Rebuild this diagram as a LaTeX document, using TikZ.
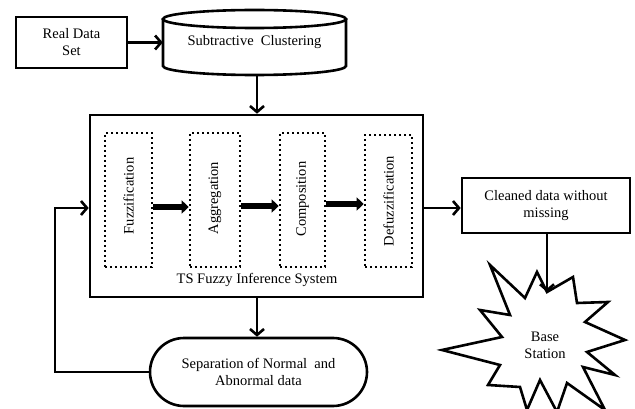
\documentclass[tikz,border=0pt]{standalone}
\usepackage{fontspec}
\setmainfont{Liberation Serif}
\usetikzlibrary{arrows.meta,calc}
\begin{document}
\begin{tikzpicture}[x=1pt,y=-1pt,
  font=\fontsize{14.5}{17}\selectfont,
  box/.style={draw,line width=2.6pt,align=center,inner sep=2pt},
  dotbox/.style={draw,line width=2.6pt,dash pattern=on 2.4pt off 2.6pt,minimum width=47pt,minimum height=134pt,inner sep=0pt},
  arr/.style={line width=2.6pt,-{Straight Barb[length=6pt,width=14pt,line width=2.6pt]}},
  bigarr/.style={line width=6pt,-{Triangle[length=7pt,width=13pt]}},
  lbl/.style={rotate=90,inner sep=0pt}]
\useasboundingbox (0,0) rectangle (635,409);
% Real data set
\node[box,minimum width=111pt,minimum height=51pt] (real) at (71.5,42.5) {Real Data\\Set};
% Cylinder
\node[minimum width=183pt,minimum height=47pt,inner sep=0pt] (cyl) at (254.5,42) {Subtractive\ \ Clustering};
\draw[line width=2.6pt] (254.5,19) ellipse [x radius=91.5pt,y radius=9pt];
\draw[line width=2.6pt] (163,19) -- (163,66) arc[start angle=180,end angle=360,x radius=91.5pt,y radius=9pt] -- (346,19);
\coordinate (cylbot) at (257,75);
\draw[arr] (real.east) -- (real.east -| cyl.west);
% TS box
\node[box,minimum width=333pt,minimum height=182pt] (ts) at (256.5,206) {};
\node (tslbl) at (257,280) {TS Fuzzy Inference System};
\draw[arr] (cylbot) -- (cylbot |- ts.north);
% dotted boxes
\node[dotbox] (fuzz) at (128.5,200) {};
\node[dotbox,minimum width=50pt] (agg) at (215,200) {};
\node[dotbox,minimum width=45pt] (comp) at (302.5,200) {};
\node[dotbox,minimum height=132pt] (defz) at (388.5,201) {};
\node[lbl] at (128.5,196) {Fuzzification};
\node[lbl] at (215,198) {Aggregation};
\node[lbl] at (302.5,199) {Composition};
\node[lbl] at (388.5,201) {Defuzzification};
\draw[bigarr] (fuzz.east |- 0,207) -- (agg.west |- 0,207);
\draw[bigarr] (agg.east |- 0,206) -- (comp.west |- 0,206);
\draw[bigarr] (comp.east |- 0,204) -- (defz.west |- 0,204);
% Cleaned data
\node[box,minimum width=168pt,minimum height=55pt] (clean) at (546,205.5) {Cleaned data without\\missing};
\draw[arr] (ts.east |- 0,208) -- (clean.west |- 0,208);
% Star
\draw[line width=2.6pt,line join=miter,fill=white]
 (490,265) -- (525,298) -- (537,272) -- (547,292) -- (573,277) -- (577,303) -- (608,302) -- (585,322) -- (625,340) -- (587,352) -- (615,375) -- (583,367) -- (605,410) -- (567,383) -- (557,412) -- (540,380) -- (527,410) -- (520,387) -- (488,385) -- (500,365) -- (442,350) -- (502,337) -- (480,310) -- (510,315) -- cycle;
\node[align=center] (star) at (545,345) {Base\\Station};
\coordinate (startop) at (547,292);
\draw[arr] (clean.south -| startop) -- (startop);
% Separation
\node[box,minimum width=217pt,minimum height=68pt,rounded corners=34pt] (sep) at (258.5,372) {Separation of Normal\ \ and\\Abnormal data};
\draw[arr] (ts.south -| cylbot) -- (cylbot |- sep.north);
\coordinate (fb) at (55,372);
\draw[arr] (sep.west) -- (fb) |- (ts.west |- 0,208);
\end{tikzpicture}
\end{document}
